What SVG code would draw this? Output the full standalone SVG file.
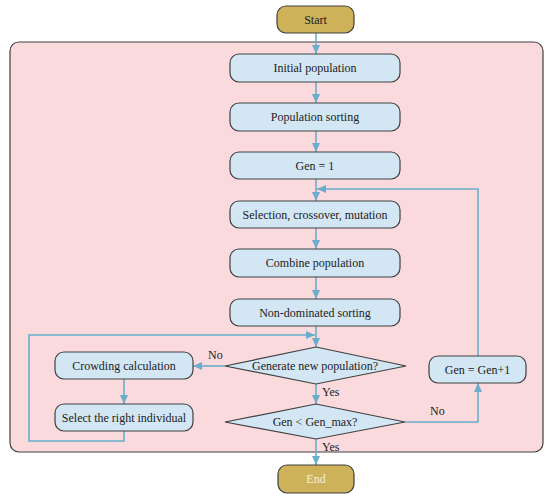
<svg xmlns="http://www.w3.org/2000/svg" width="550" height="499" viewBox="0 0 550 499">
<defs>
<marker id="ah" markerUnits="userSpaceOnUse" markerWidth="10" markerHeight="8" refX="9" refY="4" orient="auto">
<path d="M0,0 L9,4 L0,8 z" fill="#6aaecb"/>
</marker>
<style>
.box{fill:#d3e6f4;stroke:#404040;stroke-width:1.2}
.term{fill:#cdb25a;stroke:#404040;stroke-width:1.2}
.t{font-family:"Liberation Serif","DejaVu Serif",serif;font-size:12px;fill:#222;text-anchor:middle;dominant-baseline:central}
.lbl{font-family:"Liberation Serif","DejaVu Serif",serif;font-size:12px;fill:#222}
.c{fill:none;stroke:#6aaecb;stroke-width:1.6}
.a{marker-end:url(#ah)}
</style>
</defs>
<rect x="0" y="0" width="550" height="499" fill="#ffffff"/>
<rect id="panel" x="10" y="42" width="533" height="410" rx="9" fill="#fadadc" stroke="#404040" stroke-width="1.2"/>

<g id="connectors">
<line class="c a" x1="316" y1="33" x2="316" y2="54"/>
<line class="c a" x1="316" y1="82" x2="316" y2="103"/>
<line class="c a" x1="316" y1="131" x2="316" y2="152"/>
<line class="c a" x1="316" y1="179" x2="316" y2="201"/>
<line class="c a" x1="316" y1="228" x2="316" y2="249"/>
<line class="c a" x1="316" y1="277" x2="316" y2="299"/>
<line class="c a" x1="316" y1="326" x2="316" y2="347"/>
<line class="c a" x1="316" y1="384" x2="316" y2="404"/>
<line class="c a" x1="316" y1="439" x2="316" y2="465"/>
<line class="c a" x1="225" y1="366" x2="193" y2="366"/>
<line class="c a" x1="124" y1="379" x2="124" y2="404"/>
<polyline class="c a" points="124,431 124,441 29,441 29,335 315,335"/>
<polyline class="c a" points="405,422 478,422 478,383"/>
<polyline class="c a" points="478,356 478,189 317,189"/>
</g>

<g id="start"><rect class="term" x="277" y="6" width="77" height="27" rx="9"/><text class="t" x="315.5" y="19.5" font-size="14">Start</text></g>
<g id="initial"><rect class="box" x="230" y="54" width="170" height="28" rx="9"/><text class="t" x="315" y="68">Initial population</text></g>
<g id="popsort"><rect class="box" x="230" y="103" width="170" height="28" rx="9"/><text class="t" x="315" y="117">Population sorting</text></g>
<g id="gen1"><rect class="box" x="230" y="152" width="170" height="27" rx="9"/><text class="t" x="315" y="165.5">Gen = 1</text></g>
<g id="selection"><rect class="box" x="230" y="201" width="170" height="27" rx="9"/><text class="t" x="315" y="214.5">Selection, crossover, mutation</text></g>
<g id="combine"><rect class="box" x="230" y="249" width="170" height="28" rx="9"/><text class="t" x="315" y="263">Combine population</text></g>
<g id="nondom"><rect class="box" x="230" y="299" width="170" height="27" rx="9"/><text class="t" x="315" y="312.5">Non-dominated sorting</text></g>
<g id="generate"><polygon class="box" points="316,347 406,366 316,384 225,366"/><text class="t" x="315" y="366">Generate new population?</text></g>
<g id="genmax"><polygon class="box" points="316,404 405,422 316,439 225,422"/><text class="t" x="315" y="422">Gen &lt; Gen_max?</text></g>
<g id="crowding"><rect class="box" x="55" y="352" width="138" height="27" rx="9"/><text class="t" x="124" y="365.5">Crowding calculation</text></g>
<g id="select"><rect class="box" x="55" y="404" width="138" height="27" rx="9"/><text class="t" x="124" y="417.5">Select the right individual</text></g>
<g id="geninc"><rect class="box" x="429" y="356" width="97" height="27" rx="9"/><text class="t" x="477.5" y="369.5">Gen = Gen+1</text></g>
<g id="end"><rect class="term" x="278" y="465" width="76" height="28" rx="9"/><text class="t" x="316" y="479" font-size="14" style="fill:#f6f0d6">End</text></g>

<g id="labels">
<text class="lbl" x="208" y="359">No</text>
<text class="lbl" x="322" y="396">Yes</text>
<text class="lbl" x="322" y="451">Yes</text>
<text class="lbl" x="430" y="415">No</text>
</g>
</svg>
